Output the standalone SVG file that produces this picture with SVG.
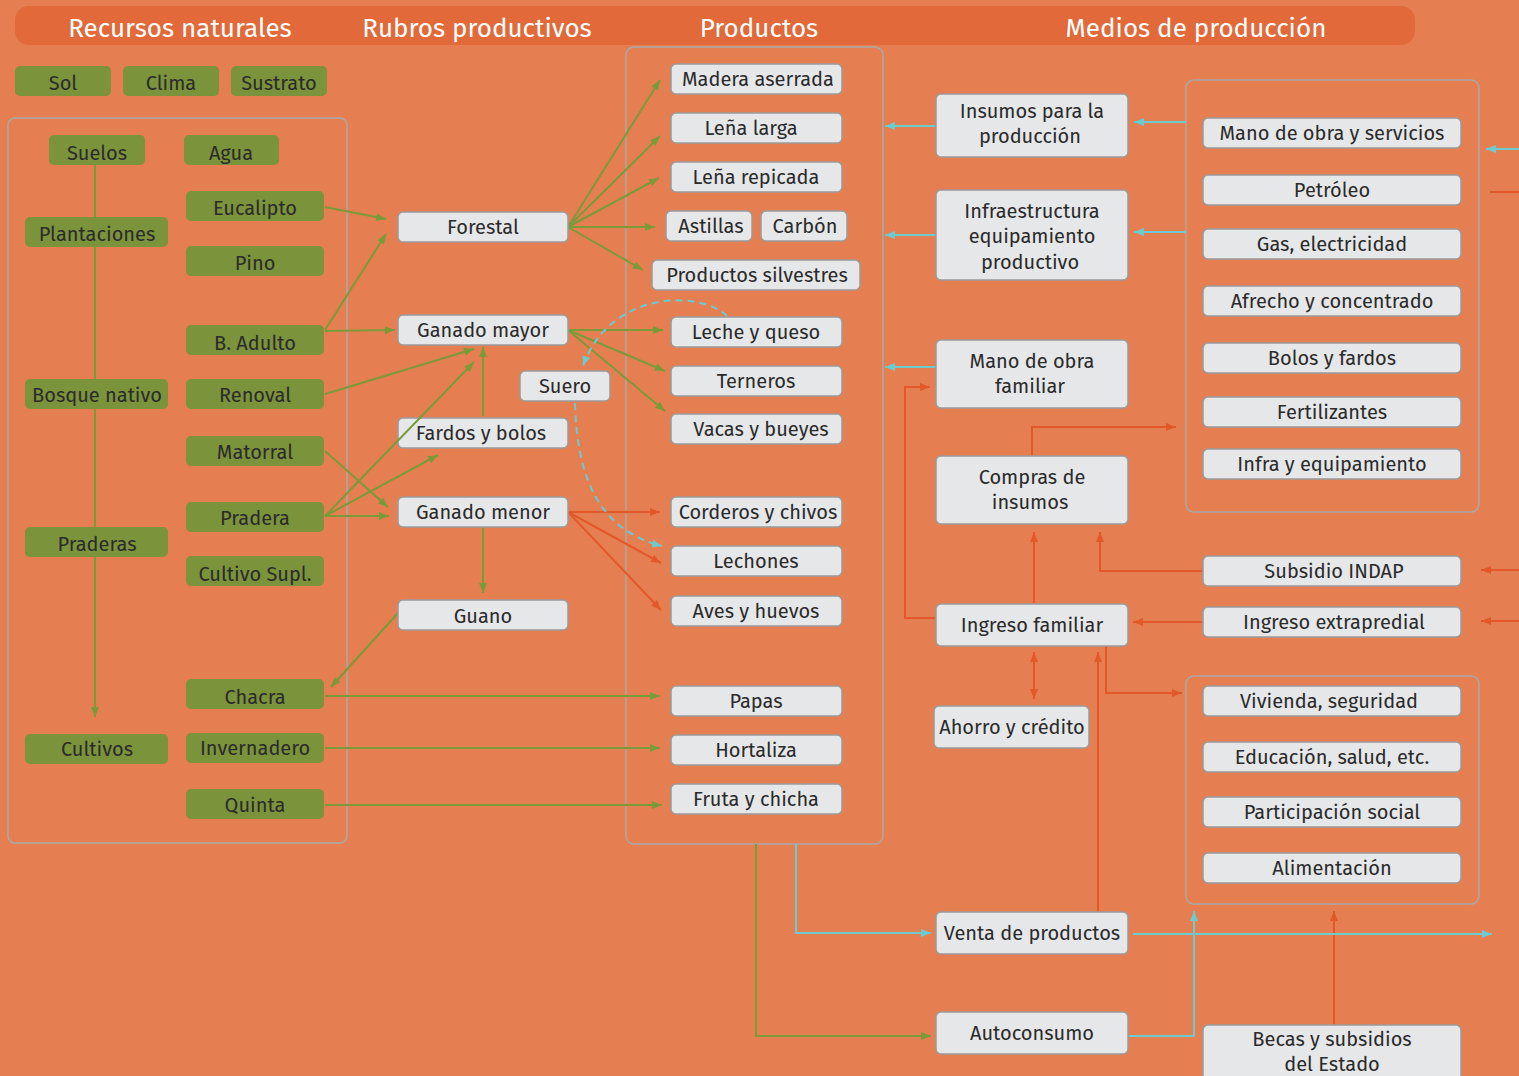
<svg xmlns="http://www.w3.org/2000/svg" width="1519" height="1076" viewBox="0 0 1519 1076">
<style>
.bg{fill:#E57F51}
.hdr{fill:#E26939}
.ht{fill:#ffffff;font-family:"Fira Sans","Noto Sans","Open Sans",sans-serif;font-size:26px;text-anchor:middle}
.g{fill:#7B933A}
.w{fill:#E6E7E8;stroke:#9b9b9b;stroke-width:1.5}
.box{fill:none;stroke:#A9A9A9;stroke-width:1.5}
.t{fill:#2b2b2b;font-family:"Fira Sans","Noto Sans","Open Sans",sans-serif;font-size:20px;text-anchor:middle}
.cg{fill:none;stroke:#7A9A3A;stroke-width:2;marker-end:url(#ag)}
.co{fill:none;stroke:#E2582A;stroke-width:2;marker-end:url(#ao)}
.ct{fill:none;stroke:#6CCBCF;stroke-width:2;marker-end:url(#at)}
.dash{stroke-dasharray:7 5}
</style>
<defs>
<marker id="ag" viewBox="0 0 10 8" refX="10" refY="4" markerWidth="10" markerHeight="8" markerUnits="userSpaceOnUse" orient="auto"><path d="M0,0 L10,4 L0,8 z" fill="#7A9A3A"/></marker>
<marker id="ao" viewBox="0 0 10 8" refX="10" refY="4" markerWidth="10" markerHeight="8" markerUnits="userSpaceOnUse" orient="auto-start-reverse"><path d="M0,0 L10,4 L0,8 z" fill="#E2582A"/></marker>
<marker id="at" viewBox="0 0 10 8" refX="10" refY="4" markerWidth="10" markerHeight="8" markerUnits="userSpaceOnUse" orient="auto"><path d="M0,0 L10,4 L0,8 z" fill="#6CCBCF"/></marker>
</defs>
<rect class="bg" x="0" y="0" width="1519" height="1076"/>
<g id="header">
<rect class="hdr" x="15" y="6" width="1400" height="39" rx="14"/>
<text class="ht" x="180" y="37">Recursos naturales</text>
<text class="ht" x="477" y="37">Rubros productivos</text>
<text class="ht" x="759" y="37">Productos</text>
<text class="ht" x="1196" y="37">Medios de producción</text>
</g>
<g id="containers">
<rect class="box" x="8" y="118" width="339" height="725" rx="7"/>
<rect class="box" x="626" y="47" width="257" height="797" rx="8"/>
<rect class="box" x="1186" y="80" width="293" height="432" rx="8"/>
<rect class="box" x="1186" y="676" width="293" height="228" rx="8"/>
</g>
<g id="connectors">
<path class="cg" d="M95,165 L95,717"/>
<path class="cg" d="M325,207 L386,219"/>
<path class="cg" d="M325,330 L386,234"/>
<path class="cg" d="M325,331 L395,330"/>
<path class="cg" d="M325,394 L474,349"/>
<path class="cg" d="M325,516 L438,455"/>
<path class="cg" d="M325,516 L389,516"/>
<path class="cg" d="M325,451 L388,507"/>
<path class="cg" d="M483,416 L483,347"/>
<path class="cg" d="M483,527 L483,593"/>
<path class="cg" d="M398,613 L331,687"/>
<path class="cg" d="M325,696 L660,696"/>
<path class="cg" d="M325,748 L660,748"/>
<path class="cg" d="M325,805 L662,805"/>
<path class="cg" d="M568,227 L660,80"/>
<path class="cg" d="M568,227 L660,136"/>
<path class="cg" d="M568,227 L659,178"/>
<path class="cg" d="M568,227 L655,227"/>
<path class="cg" d="M568,227 L643,270"/>
<path class="cg" d="M568,330 L663,330"/>
<path class="cg" d="M568,330 L665,371"/>
<path class="cg" d="M568,330 L665,411"/>
<path class="cg" d="M756,844 L756,1036 L931,1036"/>
<path class="co" d="M568,512 L660,512"/>
<path class="co" d="M568,512 L661,563"/>
<path class="co" d="M568,512 L661,610"/>
<path class="co" d="M936,618 L905,618 L905,387 L930,387"/>
<path class="co" d="M1032,456 L1032,427 L1176,427"/>
<path class="co" d="M1034,604 L1034,532"/>
<path class="co" d="M1203,571 L1100,571 L1100,532"/>
<path class="co" d="M1203,622 L1133,622"/>
<path class="co" d="M1034,652 L1034,699" marker-start="url(#ao)"/>
<path class="co" d="M1098,912 L1098,652"/>
<path class="co" d="M1106,646 L1106,693 L1182,693"/>
<path class="co" d="M1334,1025 L1334,911"/>
<path class="co" d="M1519,570 L1481,570"/>
<path class="co" d="M1519,621 L1481,621"/>
<path d="M1490,192 L1519,192" fill="none" stroke="#E2582A" stroke-width="2"/>
<path class="ct" d="M936,126 L885,126"/>
<path class="ct" d="M936,235 L885,235"/>
<path class="ct" d="M936,367 L885,367"/>
<path class="ct" d="M1186,122 L1134,122"/>
<path class="ct" d="M1186,232 L1134,232"/>
<path class="ct" d="M1519,149 L1486,149"/>
<path class="ct" d="M796,844 L796,933 L931,933"/>
<path class="ct" d="M1133,934 L1492,934"/>
<path class="ct" d="M1128,1036 L1194,1036 L1194,911"/>
<path class="ct dash" d="M727,316 C700,290 610,290 583,366"/>
<path class="ct dash" d="M575,403 C577,480 600,530 662,546"/>
</g>
<g id="n-sol"><rect class="g" x="15" y="66" width="96" height="30" rx="5"/><text class="t" x="63" y="90">Sol</text></g>
<g id="n-clima"><rect class="g" x="123" y="66" width="96" height="30" rx="5"/><text class="t" x="171" y="90">Clima</text></g>
<g id="n-sustrato"><rect class="g" x="231" y="66" width="96" height="30" rx="5"/><text class="t" x="279" y="90">Sustrato</text></g>
<g id="n-suelos"><rect class="g" x="49" y="135" width="96" height="30" rx="5"/><text class="t" x="97" y="160">Suelos</text></g>
<g id="n-agua"><rect class="g" x="184" y="135" width="95" height="30" rx="5"/><text class="t" x="231" y="160">Agua</text></g>
<g id="n-plantaciones"><rect class="g" x="25" y="217" width="143" height="30" rx="5"/><text class="t" x="97" y="241">Plantaciones</text></g>
<g id="n-eucalipto"><rect class="g" x="186" y="191" width="138" height="30" rx="5"/><text class="t" x="255" y="215">Eucalipto</text></g>
<g id="n-pino"><rect class="g" x="186" y="246" width="138" height="30" rx="5"/><text class="t" x="255" y="270">Pino</text></g>
<g id="n-badulto"><rect class="g" x="186" y="325" width="138" height="30" rx="5"/><text class="t" x="255" y="350">B. Adulto</text></g>
<g id="n-bosque"><rect class="g" x="25" y="379" width="143" height="30" rx="5"/><text class="t" x="97" y="402">Bosque nativo</text></g>
<g id="n-renoval"><rect class="g" x="186" y="379" width="138" height="30" rx="5"/><text class="t" x="255" y="402">Renoval</text></g>
<g id="n-matorral"><rect class="g" x="186" y="436" width="138" height="30" rx="5"/><text class="t" x="255" y="459">Matorral</text></g>
<g id="n-pradera"><rect class="g" x="186" y="502" width="138" height="30" rx="5"/><text class="t" x="255" y="525">Pradera</text></g>
<g id="n-praderas"><rect class="g" x="25" y="527" width="143" height="30" rx="5"/><text class="t" x="97" y="551">Praderas</text></g>
<g id="n-cultivosupl"><rect class="g" x="186" y="556" width="138" height="30" rx="5"/><text class="t" x="255" y="581">Cultivo Supl.</text></g>
<g id="n-chacra"><rect class="g" x="186" y="679" width="138" height="30" rx="5"/><text class="t" x="255" y="704">Chacra</text></g>
<g id="n-cultivos"><rect class="g" x="25" y="734" width="143" height="30" rx="5"/><text class="t" x="97" y="756">Cultivos</text></g>
<g id="n-invernadero"><rect class="g" x="186" y="733" width="138" height="30" rx="5"/><text class="t" x="255" y="755">Invernadero</text></g>
<g id="n-quinta"><rect class="g" x="186" y="789" width="138" height="30" rx="5"/><text class="t" x="255" y="812">Quinta</text></g>
<g id="n-forestal"><rect class="w" x="398" y="212" width="170" height="30" rx="5"/><text class="t" x="483" y="234">Forestal</text></g>
<g id="n-ganadomayor"><rect class="w" x="398" y="315" width="170" height="30" rx="5"/><text class="t" x="483" y="337">Ganado mayor</text></g>
<g id="n-suero"><rect class="w" x="520" y="371" width="90" height="30" rx="5"/><text class="t" x="565" y="393">Suero</text></g>
<g id="n-fardos"><rect class="w" x="398" y="418" width="170" height="30" rx="5"/><text class="t" x="481" y="440">Fardos y bolos</text></g>
<g id="n-ganadomenor"><rect class="w" x="398" y="497" width="170" height="30" rx="5"/><text class="t" x="483" y="519">Ganado menor</text></g>
<g id="n-guano"><rect class="w" x="398" y="600" width="170" height="30" rx="5"/><text class="t" x="483" y="623">Guano</text></g>
<g id="n-madera"><rect class="w" x="671" y="64" width="171" height="30" rx="5"/><text class="t" x="758" y="86">Madera aserrada</text></g>
<g id="n-lenalarga"><rect class="w" x="671" y="113" width="171" height="30" rx="5"/><text class="t" x="751" y="135">Leña larga</text></g>
<g id="n-lenarepicada"><rect class="w" x="671" y="162" width="171" height="30" rx="5"/><text class="t" x="756" y="184">Leña repicada</text></g>
<g id="n-astillas"><rect class="w" x="666" y="211" width="86" height="30" rx="5"/><text class="t" x="711" y="233">Astillas</text></g>
<g id="n-carbon"><rect class="w" x="761" y="211" width="86" height="30" rx="5"/><text class="t" x="805" y="233">Carbón</text></g>
<g id="n-silvestres"><rect class="w" x="652" y="260" width="208" height="30" rx="5"/><text class="t" x="757" y="282">Productos silvestres</text></g>
<g id="n-leche"><rect class="w" x="671" y="317" width="171" height="30" rx="5"/><text class="t" x="756" y="339">Leche y queso</text></g>
<g id="n-terneros"><rect class="w" x="671" y="366" width="171" height="30" rx="5"/><text class="t" x="756" y="388">Terneros</text></g>
<g id="n-vacas"><rect class="w" x="671" y="414" width="171" height="30" rx="5"/><text class="t" x="761" y="436">Vacas y bueyes</text></g>
<g id="n-corderos"><rect class="w" x="671" y="497" width="171" height="30" rx="5"/><text class="t" x="758" y="519">Corderos y chivos</text></g>
<g id="n-lechones"><rect class="w" x="671" y="546" width="171" height="30" rx="5"/><text class="t" x="756" y="568">Lechones</text></g>
<g id="n-aves"><rect class="w" x="671" y="596" width="171" height="30" rx="5"/><text class="t" x="756" y="618">Aves y huevos</text></g>
<g id="n-papas"><rect class="w" x="671" y="686" width="171" height="30" rx="5"/><text class="t" x="756" y="708">Papas</text></g>
<g id="n-hortaliza"><rect class="w" x="671" y="735" width="171" height="30" rx="5"/><text class="t" x="756" y="757">Hortaliza</text></g>
<g id="n-fruta"><rect class="w" x="671" y="784" width="171" height="30" rx="5"/><text class="t" x="756" y="806">Fruta y chicha</text></g>
<g id="n-insumos"><rect class="w" x="936" y="94" width="192" height="63" rx="5"/><text class="t" x="1032" y="118">Insumos para la</text><text class="t" x="1030" y="143">producción</text></g>
<g id="n-infra"><rect class="w" x="936" y="190" width="192" height="90" rx="5"/><text class="t" x="1032" y="218">Infraestructura</text><text class="t" x="1032" y="243">equipamiento</text><text class="t" x="1030" y="269">productivo</text></g>
<g id="n-manofam"><rect class="w" x="936" y="340" width="192" height="68" rx="5"/><text class="t" x="1032" y="368">Mano de obra</text><text class="t" x="1030" y="393">familiar</text></g>
<g id="n-compras"><rect class="w" x="936" y="456" width="192" height="68" rx="5"/><text class="t" x="1032" y="484">Compras de</text><text class="t" x="1030" y="509">insumos</text></g>
<g id="n-ingresofam"><rect class="w" x="936" y="604" width="192" height="42" rx="5"/><text class="t" x="1032" y="632">Ingreso familiar</text></g>
<g id="n-ahorro"><rect class="w" x="934" y="706" width="155" height="42" rx="5"/><text class="t" x="1012" y="734">Ahorro y crédito</text></g>
<g id="n-venta"><rect class="w" x="936" y="912" width="192" height="42" rx="5"/><text class="t" x="1032" y="940">Venta de productos</text></g>
<g id="n-autoconsumo"><rect class="w" x="936" y="1012" width="192" height="42" rx="5"/><text class="t" x="1032" y="1040">Autoconsumo</text></g>
<g id="n-manoserv"><rect class="w" x="1203" y="118" width="258" height="30" rx="5"/><text class="t" x="1332" y="140">Mano de obra y servicios</text></g>
<g id="n-petroleo"><rect class="w" x="1203" y="175" width="258" height="30" rx="5"/><text class="t" x="1332" y="197">Petróleo</text></g>
<g id="n-gas"><rect class="w" x="1203" y="229" width="258" height="30" rx="5"/><text class="t" x="1332" y="251">Gas, electricidad</text></g>
<g id="n-afrecho"><rect class="w" x="1203" y="286" width="258" height="30" rx="5"/><text class="t" x="1332" y="308">Afrecho y concentrado</text></g>
<g id="n-bolos"><rect class="w" x="1203" y="343" width="258" height="30" rx="5"/><text class="t" x="1332" y="365">Bolos y fardos</text></g>
<g id="n-fertilizantes"><rect class="w" x="1203" y="397" width="258" height="30" rx="5"/><text class="t" x="1332" y="419">Fertilizantes</text></g>
<g id="n-infraequip"><rect class="w" x="1203" y="449" width="258" height="30" rx="5"/><text class="t" x="1332" y="471">Infra y equipamiento</text></g>
<g id="n-indap"><rect class="w" x="1203" y="556" width="258" height="30" rx="5"/><text class="t" x="1334" y="578">Subsidio INDAP</text></g>
<g id="n-extrapredial"><rect class="w" x="1203" y="607" width="258" height="30" rx="5"/><text class="t" x="1334" y="629">Ingreso extrapredial</text></g>
<g id="n-vivienda"><rect class="w" x="1203" y="686" width="258" height="30" rx="5"/><text class="t" x="1329" y="708">Vivienda, seguridad</text></g>
<g id="n-educacion"><rect class="w" x="1203" y="742" width="258" height="30" rx="5"/><text class="t" x="1332" y="764">Educación, salud, etc.</text></g>
<g id="n-participacion"><rect class="w" x="1203" y="797" width="258" height="30" rx="5"/><text class="t" x="1332" y="819">Participación social</text></g>
<g id="n-alimentacion"><rect class="w" x="1203" y="853" width="258" height="30" rx="5"/><text class="t" x="1332" y="875">Alimentación</text></g>
<g id="n-becas"><rect class="w" x="1203" y="1025" width="258" height="60" rx="5"/><text class="t" x="1332" y="1046">Becas y subsidios</text><text class="t" x="1332" y="1071">del Estado</text></g>
<g id="connectors-over">
<path class="cg" d="M325,516 L474,362"/>
</g>
</svg>
